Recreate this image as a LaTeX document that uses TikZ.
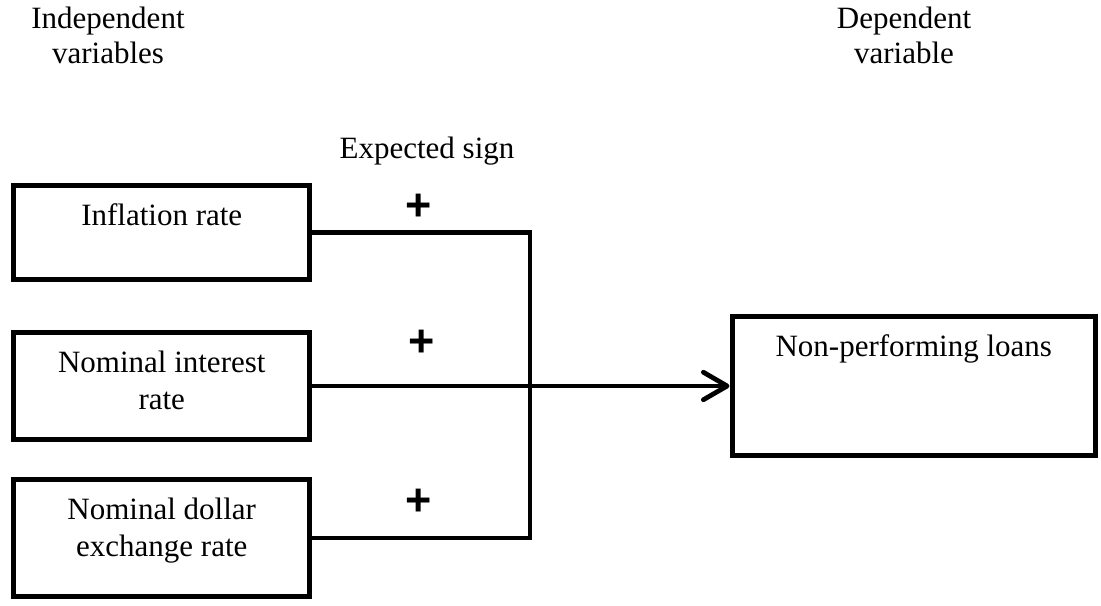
\documentclass[tikz,border=0pt]{standalone}
\usepackage{fontspec}
\setmainfont{Liberation Serif}
\newfontfamily\signfont{Liberation Sans}
\usetikzlibrary{arrows.meta, positioning}
\tikzstyle{varbox} = [draw=black, line width=2pt, minimum width=118.2pt, inner sep=0pt]
\tikzstyle{boxtext} = [align=center, inner sep=0pt, font=\fontsize{12.4}{14.8}\selectfont]
\tikzstyle{headtext} = [anchor=north, align=center, inner sep=0pt, font=\fontsize{12.4}{14}\selectfont]
\tikzstyle{sign} = [inner sep=0pt, font=\signfont\bfseries\fontsize{18}{18}\selectfont]
\tikzstyle{link} = [line width=1.9pt]
\tikzstyle{arrow} = [line width=1.9pt, -{Straight Barb[round, length=9.5pt, width=11pt]}]

\begin{document}
\begin{tikzpicture}[x=0.4pt, y=-0.4pt]
    \useasboundingbox (0,0) rectangle (1101,606);

    % Headings
    \node[headtext] (indep) at (108,6) {Independent\\variables};
    \node[headtext] (dep) at (904,6) {Dependent\\variable};
    \node[headtext] (expsign) at (427,136) {Expected sign};

    % Independent variables
    \node[varbox, minimum height=37.2pt] (infl) at (161.75,232.5) {};
    \node[varbox, minimum height=42.4pt] (rate) at (161.75,386) {};
    \node[varbox, minimum height=46.8pt] (exch) at (161.75,538) {};
    \node[boxtext, below=8pt of infl.north] (infl-lbl) {Inflation rate};
    \node[boxtext, below=8pt of rate.north] (rate-lbl) {Nominal interest\\rate};
    \node[boxtext, below=8pt of exch.north] (exch-lbl) {Nominal dollar\\exchange rate};

    % Dependent variable
    \node[varbox, minimum width=145.4pt, minimum height=55.6pt] (npl) at (913.75,386) {};
    \node[boxtext, below=8pt of npl.north] (npl-lbl) {Non-performing loans};

    % Connectors
    \coordinate (bus) at (530,386);
    \draw[link] (infl.east) -| (bus) |- (exch.east);
    \draw[arrow] (rate.east) -- (npl.west);

    % Signs
    \node[sign] (sign1) at (419,207) {+};
    \node[sign] (sign2) at (422,343) {+};
    \node[sign] (sign3) at (419,502) {+};
\end{tikzpicture}
\end{document}
